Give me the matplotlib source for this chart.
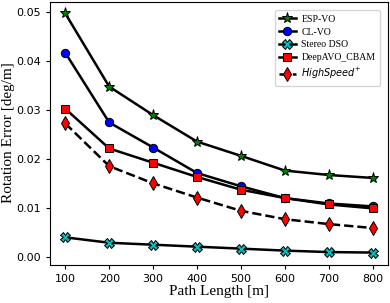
import matplotlib
matplotlib.use("Agg")
import matplotlib.pyplot as plt

path_length = [100, 200, 300, 400, 500, 600, 700, 800]

esp_vo = [0.0497, 0.0348, 0.0290, 0.0236, 0.0207, 0.0177, 0.0168, 0.0162]
cl_vo = [0.0417, 0.0275, 0.0224, 0.0172, 0.0145, 0.0121, 0.0110, 0.0104]
stereo_dso = [0.0041, 0.0030, 0.0026, 0.0022, 0.0018, 0.0014, 0.0011, 0.0010]
deepavo_cbam = [0.0303, 0.0222, 0.0193, 0.0164, 0.0138, 0.0121, 0.0108, 0.0100]
highspeed = [0.0273, 0.0186, 0.0151, 0.0122, 0.0095, 0.0078, 0.0068, 0.0060]

fig, ax = plt.subplots(figsize=(3.9, 3.03), dpi=100)

common = dict(color="black", linewidth=1.8, markeredgecolor="black", markeredgewidth=0.7)
ax.plot(path_length, esp_vo, marker="*", markersize=8, markerfacecolor="green",
        label="ESP-VO", **common)
ax.plot(path_length, cl_vo, marker="o", markersize=6, markerfacecolor="blue",
        label="CL-VO", **common)
ax.plot(path_length, stereo_dso, marker="X", markersize=6.5, markerfacecolor="c",
        label="Stereo DSO", **common)
ax.plot(path_length, deepavo_cbam, marker="s", markersize=6, markerfacecolor="red",
        label="DeepAVO_CBAM", **common)
ax.plot(path_length, highspeed, marker="d", markersize=7, markerfacecolor="red",
        linestyle="--", label=r"$\it{HighSpeed}^{+}$", **common)

ax.set_xticks(path_length)
ax.set_yticks([0.0, 0.01, 0.02, 0.03, 0.04, 0.05])
ax.tick_params(labelsize=8, length=3)
ax.set_xlabel("Path Length [m]", fontsize=11, family="Liberation Serif", labelpad=1)
ax.set_ylabel("Rotation Error [deg/m]", fontsize=11, family="Liberation Serif", labelpad=0.5)

leg = ax.legend(loc="upper right", prop={"family": "Liberation Serif", "size": 7},
                handlelength=1.7, labelspacing=0.4, borderpad=0.45,
                handletextpad=0.6, bbox_to_anchor=(0.99, 0.985))
for txt in leg.get_texts():
    if "HighSpeed" in txt.get_text():
        txt.set_family("DejaVu Sans")

fig.subplots_adjust(left=0.128, right=0.995, top=0.995, bottom=0.127)
fig.savefig("out.png", dpi=100)
